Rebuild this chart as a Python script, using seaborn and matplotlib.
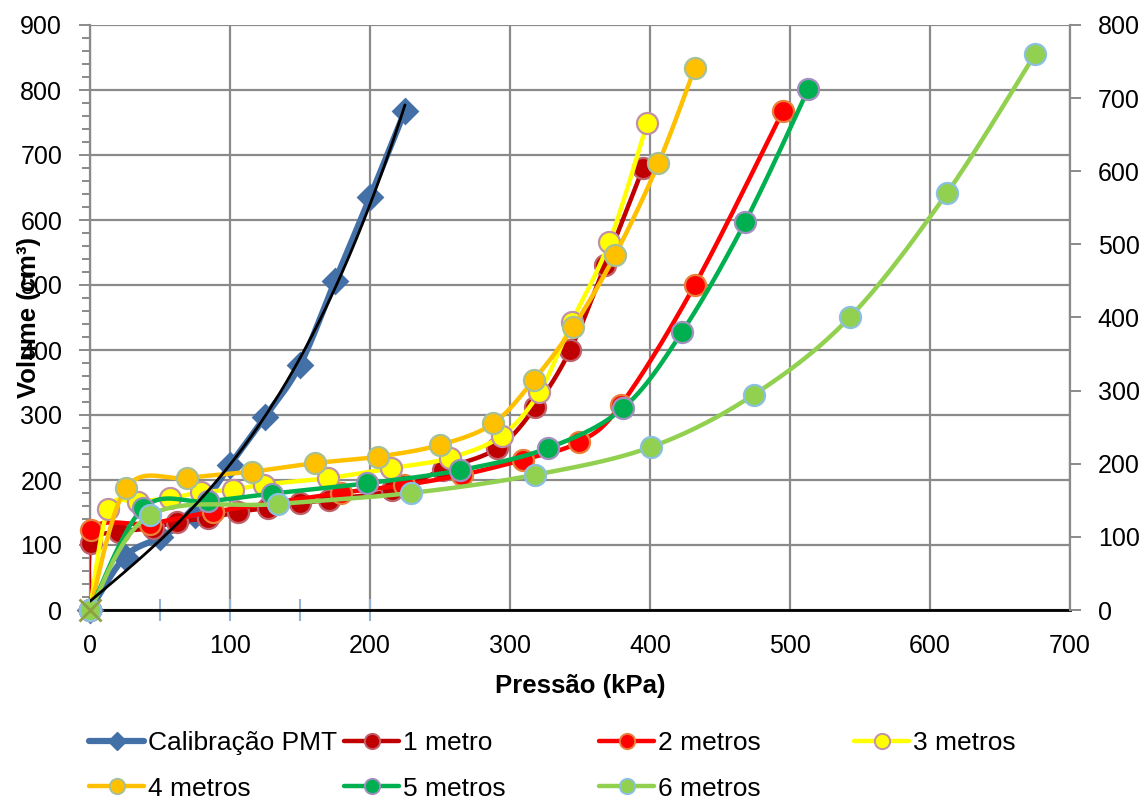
import numpy as np
import matplotlib
matplotlib.use("Agg")
import matplotlib.pyplot as plt
from matplotlib.lines import Line2D
import seaborn as sns

# ---- data: pressure (kPa) vs injected volume (cm³) ----
pressao_calib = [0, 25, 50, 75, 100, 125, 150, 175, 200, 225]
volume_calib = [0, 82, 112, 146, 223, 297, 377, 506, 635, 768]

pressao_1m = [0, 1, 21, 45, 62, 84, 106, 127, 150, 171, 216, 252, 291, 318, 343, 368, 395]
volume_1m = [0, 103, 120, 126, 136, 141, 151, 157, 164, 170, 184, 216, 249, 312, 400, 531, 680]

pressao_2m = [0, 1, 43, 88, 179, 224, 266, 309, 349, 379, 432, 495]
volume_2m = [0, 123, 133, 151, 180, 192, 208, 231, 258, 315, 500, 768]

pressao_3m = [0, 13, 34, 57, 79, 102, 124, 170, 215, 257, 294, 321, 344, 371, 398]
volume_3m = [0, 155, 166, 172, 181, 185, 193, 203, 218, 234, 268, 335, 443, 566, 749]

pressao_4m = [0, 26, 69, 116, 161, 206, 250, 288, 317, 345, 375, 406, 432]
volume_4m = [0, 188, 203, 213, 226, 236, 254, 287, 354, 435, 546, 687, 834]

pressao_5m = [0, 38, 84, 130, 198, 264, 327, 381, 423, 468, 513]
volume_5m = [0, 157, 167, 179, 195, 215, 249, 311, 428, 597, 801]

pressao_6m = [0, 43, 134, 229, 318, 401, 474, 543, 612, 675]
volume_6m = [0, 146, 163, 180, 208, 251, 331, 451, 641, 855]

labels = ["Calibração PMT", "1 metro", "2 metros", "3 metros",
          "4 metros", "5 metros", "6 metros"]

# ---- styling ----
sns.set_theme(style="white")
plt.rcParams["font.family"] = ["Liberation Sans", "DejaVu Sans"]
plt.rcParams["text.color"] = "black"
plt.rcParams["axes.labelcolor"] = "black"
FS = 18
GRID = "#8a8a8a"

fig = plt.figure(figsize=(11.4, 8), dpi=100)
ax = fig.add_axes([90 / 1140, 1 - 610 / 800, 980 / 1140, 585 / 800])
ax.set_xlim(0, 700)
ax.set_ylim(0, 900)


def excel_smooth(xs, ys, n=40):
    """Cubic Bezier smoothing through every point, computed in screen space."""
    P = ax.transData.transform(np.column_stack([xs, ys]).astype(float))
    segs = []
    t = np.linspace(0, 1, n)[:, None]
    for i in range(len(P) - 1):
        p0 = P[i - 1] if i > 0 else P[i]
        p1, p2 = P[i], P[i + 1]
        p3 = P[i + 2] if i + 2 < len(P) else P[i + 1]
        c1 = p1 + (p2 - p0) / 6.0
        c2 = p2 - (p3 - p1) / 6.0
        seg = (1 - t) ** 3 * p1 + 3 * (1 - t) ** 2 * t * c1 + 3 * (1 - t) * t ** 2 * c2 + t ** 3 * p2
        segs.append(seg if i == 0 else seg[1:])
    out = ax.transData.inverted().transform(np.vstack(segs))
    return out[:, 0], out[:, 1]


series = [
    (pressao_1m, volume_1m, "#C00000", "#C0606A"),
    (pressao_2m, volume_2m, "#FF0000", "#E8803A"),
    (pressao_3m, volume_3m, "#FFFF00", "#C090A8"),
    (pressao_4m, volume_4m, "#FFC000", "#A8C098"),
    (pressao_5m, volume_5m, "#00B050", "#A090C0"),
    (pressao_6m, volume_6m, "#92D050", "#8CC0E0"),
]

# calibration curve
BLUE = "#4470A8"
sx, sy = excel_smooth(pressao_calib, volume_calib)
sns.lineplot(x=sx, y=sy, sort=False, estimator=None, color=BLUE, lw=4.5,
             ax=ax, legend=False, zorder=3)
sns.scatterplot(x=pressao_calib, y=volume_calib, marker="D", s=200, color=BLUE,
                edgecolor=BLUE, linewidth=0, ax=ax, legend=False, zorder=4, clip_on=False)

for i, (px, vy, fc, ec) in enumerate(series):
    sx, sy = excel_smooth(px, vy)
    sns.lineplot(x=sx, y=sy, sort=False, estimator=None, color=fc, lw=3.2,
                 ax=ax, legend=False, zorder=5 + 2 * i)
    sns.scatterplot(x=px, y=vy, marker="o", s=230, color=fc, edgecolor=ec,
                    linewidth=1.6, ax=ax, legend=False, zorder=6 + 2 * i, clip_on=False)

# polynomial trend line of the calibration
coef = np.polyfit(pressao_calib, volume_calib, 3)
tx = np.linspace(0, max(pressao_calib), 200)
ax.plot(tx, np.polyval(coef, tx), color="black", lw=2, zorder=30)

# markers at the origin / x-axis
ax.plot([0], [0], marker="x", ms=16, mew=2, color="#8FA040", zorder=31, clip_on=False)
ax.plot([50, 100, 150, 200], [0, 0, 0, 0], ls="none", marker="|", ms=16, mew=1.5,
        color="#95B3D7", zorder=2, clip_on=False)

# axes, grid and ticks
ax.set_xticks(np.arange(0, 701, 100))
ax.set_xticks(np.arange(0, 701, 20), minor=True)
ax.set_yticks(np.arange(0, 901, 100))
ax.set_yticks(np.arange(0, 901, 20), minor=True)
ax.grid(True, which="major", color=GRID, lw=1.6)
ax.set_axisbelow(True)
for s in ["top", "right"]:
    ax.spines[s].set_visible(False)
ax.spines["left"].set_color(GRID)
ax.spines["left"].set_linewidth(1.6)
ax.spines["bottom"].set_color("black")
ax.spines["bottom"].set_linewidth(2)
ax.spines["bottom"].set_zorder(2.5)
ax.tick_params(axis="both", which="both", direction="out", colors=GRID,
               labelcolor="black", labelsize=FS, width=1.4)
ax.tick_params(axis="both", which="major", length=8)
ax.tick_params(axis="both", which="minor", length=6)
ax.tick_params(axis="y", pad=12)
ax.tick_params(axis="x", pad=9)

ax.set_xlabel("Pressão (kPa)", fontsize=FS + 0.5, fontweight="bold")
ax.set_ylabel("Volume (cm³)", fontsize=FS + 0.5, fontweight="bold")
ax.xaxis.set_label_coords(0.5, -0.11)
ax.yaxis.set_label_coords(-0.050, 0.5)

ax2 = ax.twinx()
ax2.set_ylim(0, 800)
ax2.set_yticks(np.arange(0, 801, 100))
for s in ["top", "left", "bottom"]:
    ax2.spines[s].set_visible(False)
ax2.spines["right"].set_color(GRID)
ax2.spines["right"].set_linewidth(1.6)
ax2.tick_params(axis="y", direction="out", length=8, width=1.4, colors=GRID,
                labelcolor="black", labelsize=FS, pad=12)
ax2.grid(False)

# legend, laid out in four fixed columns
handles = [Line2D([], [], color=BLUE, lw=4.5, marker="D", ms=9, mfc=BLUE, mec=BLUE)]
for (_, _, fc, ec) in series:
    handles.append(Line2D([], [], color=fc, lw=3.2, marker="o", ms=11, mfc=fc,
                          mec=ec, mew=1.4))
columns = [[0, 4], [1, 5], [2, 6], [3]]
col_x = [89, 344, 599, 854]
for xpx, idx in zip(col_x, columns):
    fig.legend([handles[k] for k in idx], [labels[k] for k in idx],
               loc="upper left", bbox_to_anchor=(xpx / 1140, 1 - 731 / 800),
               frameon=False, fontsize=FS + 1, handlelength=2.1,
               handletextpad=0.12, labelspacing=0.82, borderpad=0,
               borderaxespad=0, labelcolor="black")

fig.savefig("out.png", dpi=100)
